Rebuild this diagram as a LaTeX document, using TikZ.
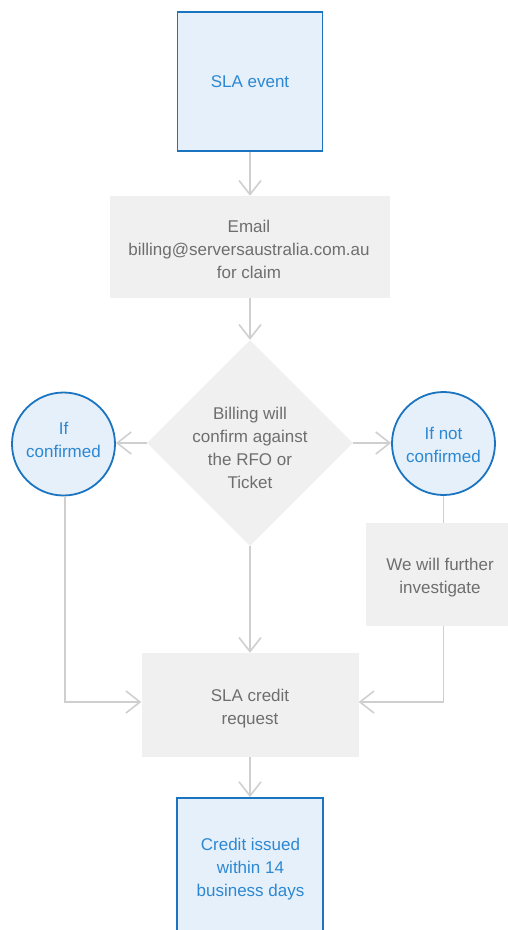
\documentclass[tikz,border=0pt]{standalone}
\usepackage{fontspec}
\setmainfont{Liberation Sans}
\usetikzlibrary{shapes.geometric,arrows.meta}
\definecolor{bluefill}{HTML}{E6F0FA}
\definecolor{blueline}{HTML}{1A74C0}
\definecolor{bluetext}{HTML}{2C88D2}
\definecolor{grayfill}{HTML}{F0F0F0}
\definecolor{graytext}{HTML}{6E6E6E}
\definecolor{conn}{HTML}{CFCFCF}
\tikzset{
  bluebox/.style={draw=blueline, line width=1.8pt, fill=bluefill, rectangle, inner sep=0pt},
  bluecirc/.style={draw=blueline, line width=1.8pt, fill=bluefill, circle, inner sep=0pt, minimum size=103pt},
  graybox/.style={fill=grayfill, rectangle, inner sep=0pt},
  btext/.style={align=center, inner sep=0pt, text=bluetext},
  gtext/.style={align=center, inner sep=0pt, text=graytext},
  conline/.style={draw=conn, line width=1.8pt},
  arr/.style={conline, -{Straight Barb[length=14pt,width=22pt,line width=1.6pt]}}
}
\begin{document}
\begin{tikzpicture}[x=1pt,y=-1pt, font=\fontsize{17}{23}\selectfont]
\useasboundingbox (0,0) rectangle (508,930);
\clip (0,0) rectangle (508,930);
\node[bluebox, minimum width=145pt, minimum height=139pt] (top) at (250,81.5) {};
\node[btext] (toptext) at (250,82) {SLA event};
\node[graybox, minimum width=280pt, minimum height=102pt] (email) at (250,247) {};
\node[gtext] (emailtext) at (249,249) {Email\\billing@serversaustralia.com.au\\for claim};
\node[diamond, fill=grayfill, inner sep=0pt, minimum width=206pt, minimum height=206pt] (dia) at (250,443) {};
\node[gtext] (diatext) at (250,448) {Billing will\\confirm against\\the RFO or\\Ticket};
\node[bluecirc] (leftc) at (63.5,444) {};
\node[btext] (lefttext) at (63.5,440) {If\\confirmed};
\node[bluecirc] (rightc) at (443.5,443.5) {};
\node[btext] (righttext) at (443.5,445) {If not\\confirmed};
\node[graybox, minimum width=143pt, minimum height=103pt] (inv) at (437,574.5) {};
\node[gtext] (invtext) at (440,577.5) {We will further\\investigate};
\node[graybox, minimum width=217pt, minimum height=104pt] (sla) at (250,705) {};
\node[gtext] (slatext) at (250,709) {SLA credit\\request};
\node[bluebox, minimum width=146pt, minimum height=150pt] (credit) at (250,873) {};
\node[btext] (credittext) at (250.5,869.5) {Credit issued\\within 14\\business days};
\draw[arr] (top.south) -- (email.north);
\draw[arr] (email.south) -- (dia.north);
\draw[arr] (dia.west) -- (dia.west -| leftc.east);
\draw[arr] (dia.east) -- (dia.east -| rightc.west);
\draw[arr] (dia.south) -- (sla.north);
\draw[arr] ([xshift=1.5pt]leftc.south) |- ([yshift=3pt]sla.west);
\draw[conline] (rightc.south) -- (rightc.south |- inv.north);
\draw[arr] (rightc.south |- inv.south) |- ([yshift=3pt]sla.east);
\draw[arr] (sla.south) -- (credit.north);
\end{tikzpicture}
\end{document}
